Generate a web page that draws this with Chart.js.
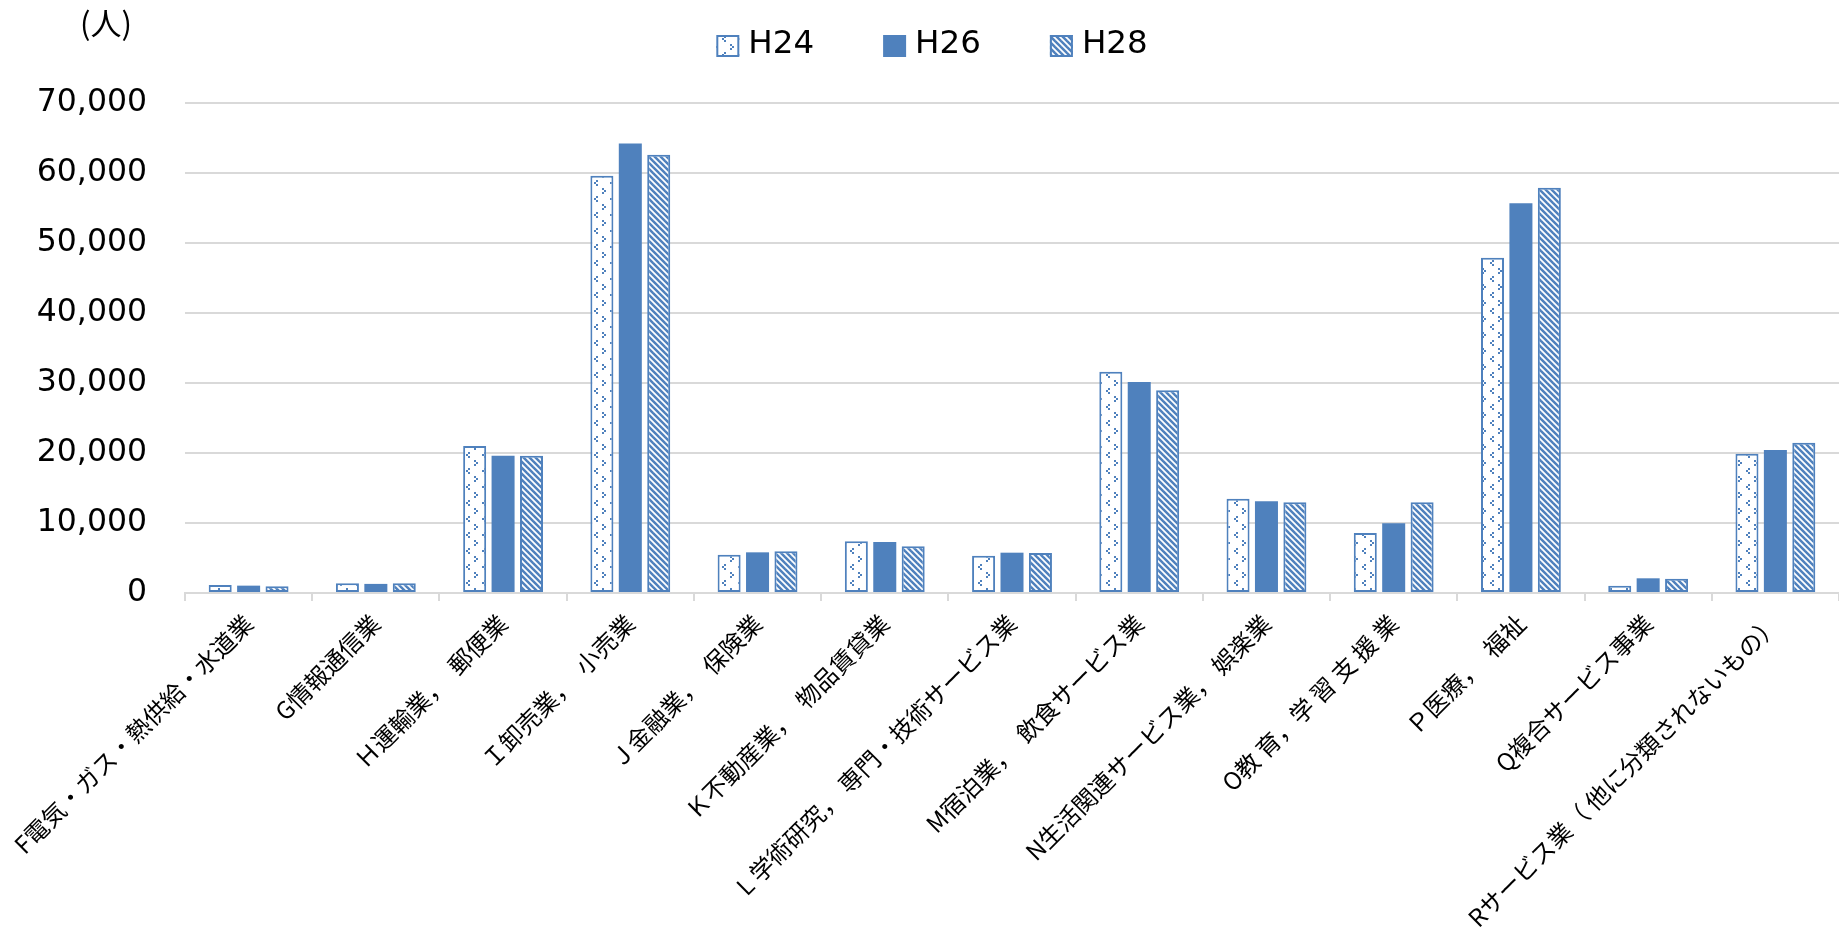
<!DOCTYPE html>
<html>
<head>
<meta charset="utf-8">
<script src="https://cdn.jsdelivr.net/npm/chart.js@4.4.0/dist/chart.umd.min.js"></script>
<style>
html,body{margin:0;padding:0;background:#fff;}
canvas{display:block;}
</style>
</head>
<body>
<canvas id="c" width="1839" height="939"></canvas>
<script>
// ---- data ----
const categories = [
  'F電気・ガス・熱供給・水道業',
  'G情報通信業',
  'Ｈ運輸業，　郵便業',
  'Ｉ卸売業，　小売業',
  'Ｊ金融業，　保険業',
  'Ｋ不動産業，　物品賃貸業',
  'L 学術研究， 専門・技術サービス業',
  'M宿泊業，　飲食サービス業',
  'N生活関連サービス業， 娯楽業',
  'O教 育，学 習 支 援 業',
  'Ｐ医療，　福祉',
  'Q複合サービス事業',
  'Rサービス業（ 他に分類されないもの）'
];
const seriesNames = ['H24', 'H26', 'H28'];
const h24 = [1150, 1380, 21000, 59600, 5480, 7380, 5330, 31600, 13480, 8570, 47900, 1050, 19900];
const h26 = [1050, 1300, 19600, 64200, 5810, 7290, 5760, 30150, 13100, 9950, 55670, 2100, 20430];
const h28 = [950, 1380, 19600, 62600, 5950, 6670, 5710, 28950, 12950, 12950, 57900, 2050, 21480];
const yTicks = [0, 10000, 20000, 30000, 40000, 50000, 60000, 70000];
const unitLabel = '(人)';

// ---- styles ----
const BLUE = '#4F81BD';

function dotPattern() {
  const t = document.createElement('canvas');
  t.width = 16; t.height = 16;
  const g = t.getContext('2d');
  g.fillStyle = '#fff'; g.fillRect(0, 0, 16, 16);
  g.fillStyle = BLUE;
  [[4,4],[2,6],[4,8],[10,12],[12,14],[10,0]].forEach(([x,y]) => g.fillRect(x, y, 2, 2));
  return g.createPattern(t, 'repeat');
}
function stripePattern() {
  const p = 6;
  const t = document.createElement('canvas');
  t.width = p; t.height = p;
  const g = t.getContext('2d');
  g.fillStyle = '#fff'; g.fillRect(0, 0, p, p);
  g.strokeStyle = BLUE; g.lineWidth = 2.5;
  [-p, 0, p].forEach(k => {
    g.beginPath(); g.moveTo(k - 1, -1); g.lineTo(k + p + 1, p + 1); g.stroke();
  });
  return g.createPattern(t, 'repeat');
}

const customLegend = {
  id: 'customLegend',
  afterDraw(chart) {
    const ctx = chart.ctx;
    ctx.save();
    ctx.font = '32.5px "DejaVu Sans"';
    const bw = 23, bh = 22, gap = 9, spacing = 69;
    const items = chart.data.datasets.map(ds => ({ ds, w: ctx.measureText(ds.label).width }));
    const total = items.reduce((s, it) => s + bw + gap + it.w, 0) + spacing * (items.length - 1);
    let x = 932 - total / 2;
    const boxTop = 35, baseline = 52.7;
    items.forEach(it => {
      ctx.fillStyle = it.ds.backgroundColor;
      ctx.fillRect(x, boxTop, bw, bh);
      if (it.ds.borderWidth) {
        ctx.lineWidth = 2; ctx.strokeStyle = it.ds.borderColor;
        ctx.strokeRect(x + 1, boxTop + 1, bw - 2, bh - 2);
      }
      ctx.fillStyle = '#000';
      ctx.textAlign = 'left'; ctx.textBaseline = 'alphabetic';
      ctx.fillText(it.ds.label, x + bw + gap, baseline);
      x += bw + gap + it.w + spacing;
    });
    ctx.font = '31px "Noto Sans CJK JP"';
    ctx.textAlign = 'center'; ctx.textBaseline = 'middle';
    ctx.fillText(unitLabel, 106, 23);
    ctx.restore();
  }
};

function draw() {
  new Chart(document.getElementById('c'), {
    type: 'bar',
    data: {
      labels: categories,
      datasets: [
        { label: seriesNames[0], data: h24, backgroundColor: dotPattern(), borderColor: BLUE, borderWidth: 2, borderSkipped: false },
        { label: seriesNames[1], data: h26, backgroundColor: BLUE, borderColor: BLUE, borderWidth: 0 },
        { label: seriesNames[2], data: h28, backgroundColor: stripePattern(), borderColor: BLUE, borderWidth: 2, borderSkipped: false }
      ]
    },
    options: {
      responsive: false,
      animation: false,
      devicePixelRatio: 1,
      layout: { padding: { top: 103, right: 0, left: 0, bottom: 0 } },
      datasets: { bar: { categoryPercentage: 0.67, barPercentage: 0.81 } },
      plugins: { legend: { display: false }, tooltip: { enabled: false }, title: { display: false } },
      scales: {
        x: {
          grid: { offset: true, drawOnChartArea: false, drawTicks: true, tickLength: 8, color: '#D9D9D9', lineWidth: 2 },
          border: { display: true, color: '#D9D9D9', width: 2 },
          ticks: {
            autoSkip: false, maxRotation: 45, minRotation: 45, padding: 8,
            color: '#000', font: { family: '"Noto Sans CJK JP"', size: 24 }
          },
          afterFit(scale) { scale.height = 346; scale.paddingLeft = 0; scale.paddingRight = 0; }
        },
        y: {
          min: 0, max: 70000,
          afterBuildTicks(scale) { scale.ticks = yTicks.map(v => ({ value: v })); },
          grid: { color: '#D9D9D9', lineWidth: 2, drawTicks: false },
          border: { display: false },
          ticks: {
            padding: 38, color: '#000',
            font: { family: '"DejaVu Sans"', size: 31.5 },
            callback: v => Number(v).toLocaleString('en-US')
          },
          afterFit(scale) { scale.width = 185; scale.paddingTop = 0; }
        }
      }
    },
    plugins: [customLegend]
  });
}

const fontLoads = [
  document.fonts.load('24px "Noto Sans CJK JP"', '電気業'),
  document.fonts.load('32px "DejaVu Sans"', '0123H')
];
Promise.all(fontLoads).then(draw, draw);
</script>
</body>
</html>
